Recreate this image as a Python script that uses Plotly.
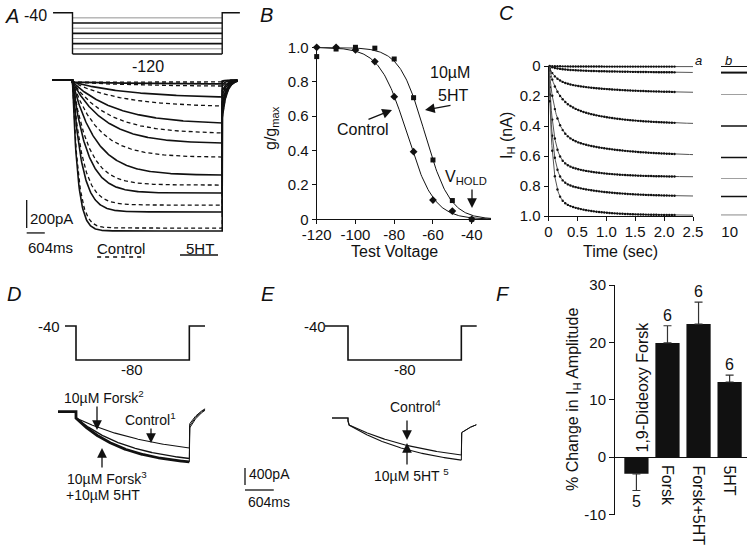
import numpy as np
import plotly.graph_objects as go

W, H = 750, 549
FONT = "Liberation Sans, Arial, Helvetica, sans-serif"
BLACK = "#111111"

# ======================= DATA =======================
# Panel A: voltage ladder and I_H current traces (control dashed, 5HT solid)
a_hold_mv = -40
a_step_mv = [-50, -60, -70, -80, -90, -100, -110, -120]
a_step_ms = 5000
a_pre_ms = -680
a_post_ms = 600
a_ctrl_pa = [14, 43, 186, 378, 550, 750, 893, 1057]
a_5ht_pa = [28, 121, 307, 450, 678, 807, 942, 1078]
a_tau_ms = [2500, 2000, 1500, 1100, 800, 500, 320, 180]
a_inst_pa = 15
a_tail_frac = 0.25
a_tail_tau_ms = 150
a_scale_pa = 200
a_scale_ms = 604

# Panel B: activation curves
b_voltage = [-120, -110, -100, -90, -80, -70, -60, -50, -40]
b_control = [1.0, 1.0, 0.985, 0.917, 0.713, 0.393, 0.112, 0.048, 0.0]
b_5ht = [0.946, 0.99, 1.0, 0.995, 0.932, 0.707, 0.345, 0.109, 0.0]
b_vhalf = [-73.5, -64.2]      # control, 5HT Boltzmann fits
b_slope = [7.0, 6.5]
b_xticks = [-120, -100, -80, -60, -40]
b_xticktext = ["-120", "-100", "-80", "-60", "-40"]
b_yticks = [0, 0.2, 0.4, 0.6, 0.8, 1.0]
b_yticktext = ["0", "0.2", "0.4", "0.6", "0.8", "1.0"]

# Panel C: I_H activation time course (double-exponential fits)
c_amp_fast = [0.004, 0.02, 0.10, 0.22, 0.45, 0.62, 0.75, 0.87]
c_tau_fast = [0.3, 0.15, 0.12, 0.15, 0.12, 0.08, 0.07, 0.065]
c_amp_slow = [0.0, 0.025, 0.08, 0.17, 0.15, 0.12, 0.12, 0.125]
c_tau_slow = [1.0, 1.0, 0.9, 0.8, 0.9, 0.6, 0.7, 0.5]
c_b_level = [0.0, 0.044, 0.19, 0.40, 0.61, 0.75, 0.87, 0.993]
c_xticks = [0, 0.5, 1.0, 1.5, 2.0, 2.5]
c_xticktext = ["0", "0.5", "1.0", "1.5", "2.0", "2.5"]
c_yticks = [0, 0.2, 0.4, 0.6, 0.8, 1.0]
c_yticktext = ["0", "0.2", "0.4", "0.6", "0.8", "1.0"]

# Panels D / E: step -40 -> -80 mV
de_hold_mv = -40
de_step_mv = -80
de_step_ms = 2380
de_inst_pa = -150
d_end_pa = [-853, -1100, -1180]          # Control1, Forsk2, Forsk3+5HT
d_tau_ms = [1750, 1200, 1000]
d_width = [1.1, 1.4, 2.8]
d_tail_pa = [-300, -350, -400]
e_end_pa = [-870, -990]                   # Control4, 5HT5
e_tau_ms = [1700, 1500]
de_scale_pa = 400
de_scale_ms = 604

# Panel F: % change in I_H amplitude
f_labels = ["1,9-Dideoxy Forsk", "Forsk", "Forsk+5HT", "5HT"]
f_values = [-2.9, 19.9, 23.2, 13.1]
f_sem = [2.9, 3.0, 3.8, 1.2]
f_n = [5, 6, 6, 6]
f_yticks = [-10, 0, 10, 20, 30]
f_yticktext = ["-10", "0", "10", "20", "30"]

# ======================= HELPERS =======================
def xd(p0, p1):
    return [p0 / W, p1 / W]


def yd(ptop, pbot):
    return [1 - pbot / H, 1 - ptop / H]


def xr(p0, p1, pzero, per_px):
    return [(p0 - pzero) * per_px, (p1 - pzero) * per_px]


def yr(ptop, pbot, pzero, per_px, v0=0.0):
    return [v0 - (pbot - pzero) * per_px, v0 - (ptop - pzero) * per_px]


fig = go.Figure()


def line(x, y, xa, ya, color=BLACK, width=1.2, dash="solid", mode="lines", marker=None):
    d = dict(x=x, y=y, xaxis=xa, yaxis=ya, mode=mode, hoverinfo="skip",
             line=dict(color=color, width=width, dash=dash), cliponaxis=False)
    if marker:
        d["marker"] = marker
    fig.add_trace(go.Scatter(**d))


# ----- Panel A protocol -----
vmin = min(a_step_mv)
for k, v in enumerate(a_step_mv):
    thick = (k % 2 == 1)
    line([0, a_step_ms], [v, v], "x", "y2",
         color=BLACK if thick else "#777777", width=1.6 if thick else 0.8)
line([a_pre_ms + 30, 0, 0, None, a_step_ms, a_step_ms, a_step_ms + a_post_ms - 10],
     [a_hold_mv, a_hold_mv, vmin, None, vmin, a_hold_mv, a_hold_mv], "x", "y2", width=1.4)


# ----- Panel A currents -----
def a_curve(ss, tau):
    ts = np.linspace(0, a_step_ms, 260)
    frac = (1 - np.exp(-ts / tau)) / (1 - np.exp(-a_step_ms / tau))
    i_step = -(a_inst_pa + (ss - a_inst_pa) * frac)
    tt = np.linspace(0, a_post_ms * 0.85, 40)
    i_tail = a_tail_frac * i_step[-1] * np.exp(-tt / a_tail_tau_ms)
    t = np.concatenate([[a_pre_ms, 0], ts, a_step_ms + tt])
    i = np.concatenate([[0, 0], i_step, i_tail])
    return t, i


for k in range(len(a_step_mv)):
    t, i = a_curve(a_ctrl_pa[k], a_tau_ms[k] * 1.1)
    line(t, i, "x", "y", width=1.3, dash="4px,3px")
    t, i = a_curve(a_5ht_pa[k], a_tau_ms[k])
    line(t, i, "x", "y", width=1.6)

# ----- Panel B -----
vv = np.linspace(-120, -30, 200)
for vh, s in zip(b_vhalf, b_slope):
    line(vv, 1 / (1 + np.exp((vv - vh) / s)), "x3", "y3", width=1.0)
line(b_voltage, b_control, "x3", "y3", mode="markers",
     marker=dict(symbol="diamond", size=6, color=BLACK))
line(b_voltage, b_5ht, "x3", "y3", mode="markers",
     marker=dict(symbol="square", size=5, color=BLACK))

# ----- Panel C -----
tc = np.linspace(0, 2.5, 300)
tm = np.arange(0.02, 2.22, 0.045)
for af, tf, as_, ts_ in zip(c_amp_fast, c_tau_fast, c_amp_slow, c_tau_slow):
    f = lambda t: af * (1 - np.exp(-t / tf)) + as_ * (1 - np.exp(-t / ts_))
    line(tc, f(tc), "x4", "y4", color="#555555", width=1.0)
    line(tm, f(tm), "x4", "y4", mode="markers",
         marker=dict(symbol="circle", size=2.4, color=BLACK))
b_styles = [(BLACK, 2.0), (BLACK, 2.0), ("#888888", 0.8), (BLACK, 1.5),
            (BLACK, 1.5), ("#888888", 0.8), (BLACK, 1.5), ("#888888", 1.0)]
for lev, (col, wd) in zip(c_b_level, b_styles):
    line([9.7, 10.6], [lev, lev], "x5", "y4", color=col, width=wd)

# ----- Panels D and E -----
def de_curve(end, tau, tail0, tail_inf, tail_tau, pre, post):
    ts = np.linspace(0, de_step_ms, 200)
    frac = (1 - np.exp(-ts / tau)) / (1 - np.exp(-de_step_ms / tau))
    i_step = de_inst_pa + (end - de_inst_pa) * frac
    tt = np.linspace(0, post, 40)
    i_tail = tail_inf + (tail0 - tail_inf) * np.exp(-tt / tail_tau)
    t_step = np.concatenate([[pre, 0], ts])
    i_stp = np.concatenate([[0, 0], i_step])
    t_tail = np.concatenate([[de_step_ms], de_step_ms + tt])
    i_tl = np.concatenate([[i_step[-1]], i_tail])
    return t_step, i_stp, t_tail, i_tl


for end, tau, wd, tl in zip(d_end_pa, d_tau_ms, d_width, d_tail_pa):
    t, i, tt, it = de_curve(end, tau, tl, 250, 300, -378, 330)
    line(t, i, "x6", "y6", width=wd)
    line(tt, it, "x6", "y6", width=1.0)
for end, tau in zip(e_end_pa, e_tau_ms):
    t, i, tt, it = de_curve(end, tau, -350, 0, 400, -336, 315)
    i[2] = -70
    line(t, i, "x8", "y8", width=1.1)
    line(tt, it, "x8", "y8", width=1.0)

line([-231, 0, 0, de_step_ms, de_step_ms, 2709],
     [de_hold_mv, de_hold_mv, de_step_mv, de_step_mv, de_hold_mv, de_hold_mv], "x6", "y7", width=1.6)
line([-483, 0, 0, de_step_ms, de_step_ms, 2703],
     [de_hold_mv, de_hold_mv, de_step_mv, de_step_mv, de_hold_mv, de_hold_mv], "x8", "y9", width=1.6)

# ----- Panel F -----
fig.add_trace(go.Bar(
    x=list(range(len(f_values))), y=f_values, xaxis="x10", yaxis="y10",
    width=0.78, marker=dict(color=BLACK, line=dict(width=0)), hoverinfo="skip",
    error_y=dict(type="data", symmetric=False,
                 array=[s if v > 0 else 0 for v, s in zip(f_values, f_sem)],
                 arrayminus=[s if v < 0 else 0 for v, s in zip(f_values, f_sem)],
                 color="#333333", thickness=1.2, width=4)))

# ======================= ANNOTATIONS =======================
anns = []


def txt(s, px, py, size=16, xanchor="center", yanchor="middle", angle=0, color=BLACK):
    anns.append(dict(text=s, x=px / W, y=1 - py / H, xref="paper", yref="paper",
                     showarrow=False, xanchor=xanchor, yanchor=yanchor, textangle=angle,
                     font=dict(family=FONT, size=size, color=color)))


def arrow(px, py, ax, ay):
    anns.append(dict(text="", x=px / W, y=1 - py / H, xref="paper", yref="paper",
                     showarrow=True, ax=ax, ay=ay, arrowhead=2, arrowsize=1.5,
                     arrowwidth=1.3, arrowcolor=BLACK, standoff=0, startstandoff=0))


# panel letters
for s, px, py in [("A", 12, 16), ("B", 266, 15), ("C", 506, 13),
                  ("D", 14, 294), ("E", 268, 294), ("F", 503, 294)]:
    txt("<i>%s</i>" % s, px, py, size=20)

# A texts
txt("-40", 35, 15, 16)
txt("-120", 148, 66, 16)
txt("200pA", 28, 218, 15, xanchor="left")
txt("604ms", 26, 247, 15, xanchor="left")
txt("Control", 121, 248, 15)
txt("5HT", 200, 248, 15)

# B texts
txt("g/g<sub>max</sub>", 271, 128, 16, angle=-90)
txt("Test Voltage", 395, 251, 16)
txt("10µM", 450, 73, 16)
txt("5HT", 453, 95, 16)
arrow(425, 110, 27, -5)
txt("Control", 363, 129, 16)
arrow(392, 110, -25, 10)
txt("V<sub>HOLD</sub>", 466, 177, 16)
arrow(472, 208, 0, -20)

# C texts
txt("I<sub>H</sub> (nA)", 507, 136, 16, angle=-90)
txt("Time (sec)", 620, 251, 16)
txt("<i>a</i>", 698, 60, 13)
txt("<i>b</i>", 728, 60, 13)

# D texts
txt("-40", 49, 326, 15)
txt("-80", 132, 369, 15)
txt("10µM Forsk<sup>2</sup>", 104, 397, 14)
arrow(97, 430, 0, -25)
txt("Control<sup>1</sup>", 150, 419, 14)
arrow(151, 443, 0, -16)
txt("10µM Forsk<sup>3</sup>", 107, 478, 14)
txt("+10µM 5HT", 103, 495, 14)
arrow(102, 448, 0, 21)
txt("400pA", 247, 474, 14, xanchor="left")
txt("604ms", 246, 502, 14, xanchor="left")

# E texts
txt("-40", 315, 326, 15)
txt("-80", 405, 369, 15)
txt("Control<sup>4</sup>", 415, 406, 14)
arrow(407, 440, 0, -21)
txt("10µM 5HT <sup>5</sup>", 411, 475, 14)
arrow(407, 443, 0, 23)

# F texts
txt("% Change in I<sub>H</sub> Amplitude", 573, 400, 16, angle=-90)
txt(f_labels[0], 642, 455, 16, yanchor="bottom", angle=-90)
for k in range(1, len(f_labels)):
    anns.append(dict(text=f_labels[k], x=k, y=1 - 463 / H, xref="x10", yref="paper",
                     showarrow=False, xanchor="center", yanchor="top", textangle=90,
                     font=dict(family=FONT, size=16, color=BLACK)))
for k, (v, s, n) in enumerate(zip(f_values, f_sem, f_n)):
    if v >= 0:
        anns.append(dict(text=str(n), x=k, y=v + s, xref="x10", yref="y10", showarrow=False,
                         xanchor="center", yanchor="bottom", yshift=0,
                         font=dict(family=FONT, size=16, color=BLACK)))
    else:
        anns.append(dict(text=str(n), x=k, y=v - s, xref="x10", yref="y10", showarrow=False,
                         xanchor="center", yanchor="top", yshift=-1,
                         font=dict(family=FONT, size=16, color=BLACK)))

# ======================= SHAPES (scale bars, legend keys) =======================
shapes = []


def seg(x0, y0, x1, y1, xref, yref, width=1.3, dash="solid"):
    shapes.append(dict(type="line", x0=x0, y0=y0, x1=x1, y1=y1, xref=xref, yref=yref,
                       line=dict(color=BLACK, width=width, dash=dash)))


sa_t, sa_i = -1530, -857
seg(sa_t, sa_i, sa_t, sa_i - a_scale_pa, "x", "y")
seg(sa_t, sa_i - 235, sa_t + a_scale_ms, sa_i - 235, "x", "y")
seg(822, -1264, 2325, -1264, "x", "y", width=1.4, dash="4px,4px")
seg(3590, -1250, 4860, -1250, "x", "y", width=1.6)

sd_t, sd_i = 3549, -1323
seg(sd_t, sd_i, sd_t, sd_i - de_scale_pa, "x6", "y6")
seg(sd_t, sd_i - 517, sd_t + de_scale_ms, sd_i - 517, "x6", "y6")

# ======================= AXES =======================
def hid(dom, rng, anchor):
    return dict(domain=dom, range=rng, visible=False, fixedrange=True, anchor=anchor,
                automargin=False)


tickfont = dict(family=FONT, size=15, color=BLACK)
axstyle = dict(showline=True, linecolor=BLACK, linewidth=1, ticks="outside", ticklen=4,
               tickcolor=BLACK, tickwidth=1, showgrid=False, zeroline=False,
               tickfont=tickfont, fixedrange=True, automargin=False, tickangle=0)

layout = dict(
    width=W, height=H, margin=dict(l=0, r=0, t=0, b=0, pad=0, autoexpand=False),
    paper_bgcolor="white", plot_bgcolor="rgba(0,0,0,0)", showlegend=False,
    font=dict(family=FONT, color=BLACK),
    xaxis=hid(xd(20, 250), xr(20, 250, 72.5, 33.4), "y"),
    yaxis=hid(yd(60, 268), yr(60, 268, 80, 7.14), "x"),
    yaxis2=hid(yd(4, 60), yr(4, 60, 12.7, 1 / 0.516, -40), "x"),
    xaxis3=dict(domain=xd(316.7, 491.1), range=[-120, -30], anchor="y3",
                tickvals=b_xticks, ticktext=b_xticktext, ticklabelstandoff=-2, **axstyle),
    yaxis3=dict(domain=yd(47.3, 219.3), range=[0, 1.0], anchor="x3",
                tickvals=b_yticks, ticktext=b_yticktext, **axstyle),
    xaxis4=dict(domain=xd(548.5, 693), range=[0, 2.5], anchor="y4",
                tickvals=c_xticks, ticktext=c_xticktext, ticklabelstandoff=-2, **axstyle),
    yaxis4=dict(domain=yd(66, 216), range=[1.0, 0], anchor="x4",
                tickvals=c_yticks, ticktext=c_yticktext, **axstyle),
    xaxis5=dict(domain=xd(721, 747), range=[9.7, 10.6], anchor="y4", showline=False,
                ticks="outside", ticklen=4, tickcolor="rgba(0,0,0,0)", tickvals=[10],
                ticktext=["10"], showgrid=False, zeroline=False, tickfont=tickfont,
                fixedrange=True, automargin=False, ticklabelstandoff=-2),
    xaxis6=hid(xd(40, 300), xr(40, 300, 76, 21), "y6"),
    yaxis6=hid(yd(380, 530), yr(380, 530, 411.7, 23.5), "x6"),
    yaxis7=hid(yd(296, 380), yr(296, 380, 326, 1 / 0.85, -40), "x6"),
    xaxis8=hid(xd(310, 500), xr(310, 500, 348, 21), "y8"),
    yaxis8=hid(yd(380, 530), yr(380, 530, 418, 23.5), "x8"),
    yaxis9=hid(yd(296, 380), yr(296, 380, 326, 1 / 0.85, -40), "x8"),
    xaxis10=dict(domain=xd(615, 747), range=[-0.69, 3.56], anchor="y10", visible=False,
                 fixedrange=True, automargin=False),
    yaxis10=dict(domain=yd(285, 514.6), range=[-10, 30], anchor="x10",
                 tickvals=f_yticks, ticktext=f_yticktext,
                 **dict(axstyle, zeroline=True, zerolinecolor=BLACK,
                        zerolinewidth=1.2, ticklen=5)),
    annotations=anns, shapes=shapes,
)
fig.update_layout(**layout)
fig.write_html("out.html", config={"displayModeBar": False},
               post_script="document.body.style.margin='0px';document.body.style.overflow='hidden';")
